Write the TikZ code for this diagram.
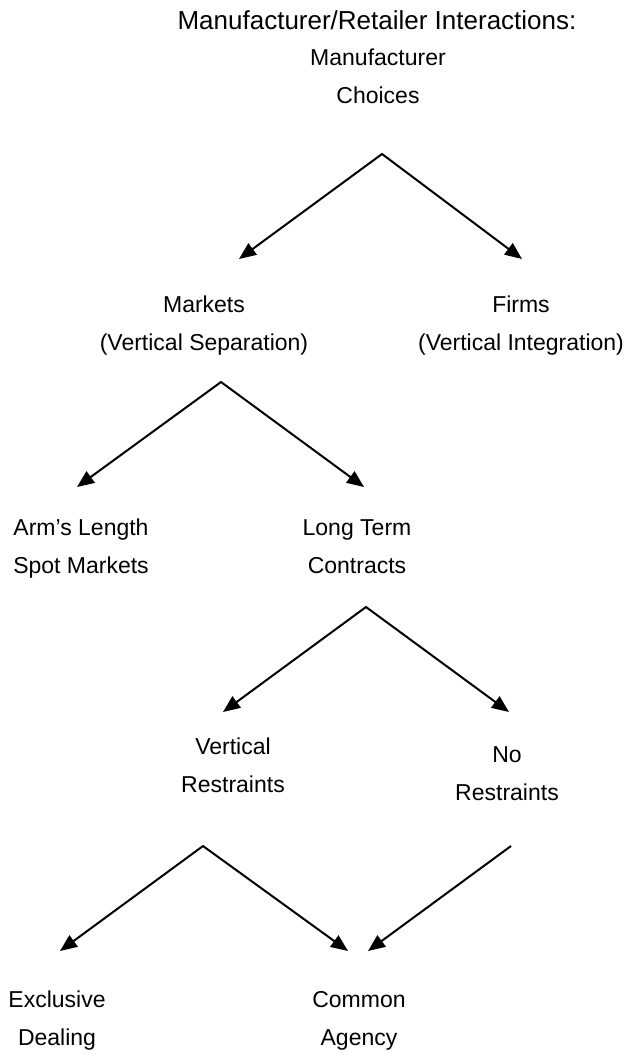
\documentclass[tikz,border=0pt]{standalone}
\usepackage{fontspec}
\setmainfont{Liberation Sans}
\usepackage{tikz}
\usetikzlibrary{arrows.meta, positioning}

\begin{document}
\begin{tikzpicture}[
            x=1pt, y=-1pt,
            lbl/.style={
                align=center,
                inner sep=0pt,
                outer sep=0pt,
                font=\fontsize{23}{38}\selectfont
  },
  arr/.style={
    -{Triangle[length=17pt,width=14pt]},
    line width=2pt
  },
  fork/.style={
    {Triangle[length=17pt,width=14pt]}-{Triangle[length=17pt,width=14pt]},
    line width=2pt,
    line join=miter
  }
]
\useasboundingbox (0,0) rectangle (632,1055);

% Labels
\node [anchor=base, inner sep=0pt, font=\fontsize{26}{30}\selectfont] (title) at (377,29) {Manufacturer/Retailer Interactions:};
\node [lbl] (choices) at (378,76.5) {Manufacturer\\Choices};
\node [lbl] (markets) at (204,326) {Markets\\(Vertical Separation)};
\node [lbl] (firms) at (521,326) {Firms\\(Vertical Integration)};
\node [lbl] (spot) at (81,549) {Arm’s Length\\Spot Markets};
\node [lbl] (longterm) at (357,546.5) {Long Term\\Contracts};
\node [lbl] (vertical) at (233,765.5) {Vertical\\Restraints};
\node [lbl] (norestr) at (507,774) {No\\Restraints};
\node [lbl] (exclusive) at (57,1021) {Exclusive\\Dealing};
\node [lbl] (common) at (359,1021) {Common\\Agency};

% Forks
\draw [fork] ([xshift=35pt,yshift=67pt]markets.center) -- ([xshift=4pt,yshift=-77.5pt]choices.center) -- ([xshift=1pt,yshift=67pt]firms.center);
\draw [fork] ([xshift=-4pt,yshift=62pt]spot.center) -- ([xshift=17pt,yshift=-56pt]markets.center) -- ([xshift=7pt,yshift=59.5pt]longterm.center);
\draw [fork] ([xshift=-10pt,yshift=53.5pt]vertical.center) -- ([xshift=9pt,yshift=-60.5pt]longterm.center) -- ([xshift=2pt,yshift=62pt]norestr.center);
\draw [fork] ([xshift=3pt,yshift=70pt]exclusive.center) -- ([xshift=-30pt,yshift=-80.5pt]vertical.center) -- ([xshift=-11pt,yshift=70pt]common.center);

% Arrow from No Restraints down to Common Agency
\draw [arr] ([xshift=4pt,yshift=-72pt]norestr.center) -- ([xshift=9pt,yshift=70pt]common.center);

\end{tikzpicture}
\end{document}
